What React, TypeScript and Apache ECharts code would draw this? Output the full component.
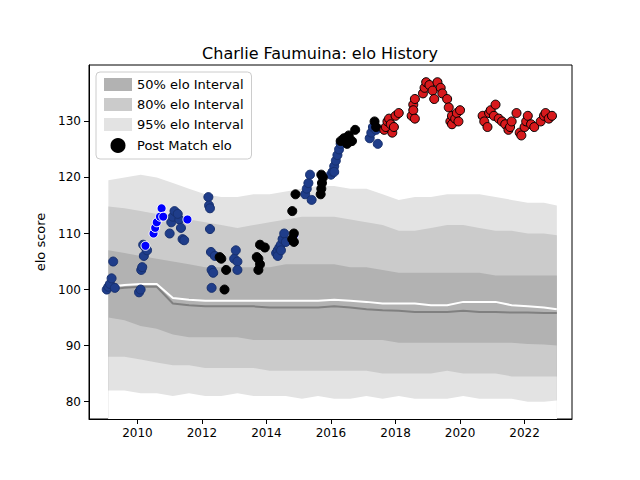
import React, { useEffect, useRef } from "react";
import * as echarts from "echarts";

const bandYears = [2009.1, 2009.6, 2010.1, 2010.6, 2011.1, 2011.6, 2012.1, 2012.6, 2013.1, 2013.6, 2014.1, 2014.6, 2015.1, 2015.6, 2016.1, 2016.6, 2017.1, 2017.6, 2018.1, 2018.6, 2019.1, 2019.6, 2020.1, 2020.6, 2021.1, 2021.6, 2022.1, 2022.6, 2023.0];
const upper95 = [119.5, 120, 120.5, 120, 119, 118, 117, 116.5, 116.5, 117, 117, 117.5, 118, 118.5, 118.5, 118, 118, 117, 116, 116.5, 116.5, 117, 117, 117, 116.5, 116, 115.5, 115.5, 115];
const lower95 = [82, 82, 81.5, 81.5, 81, 81.5, 81, 81, 81.5, 81, 81, 81, 80.5, 81, 80.5, 80.5, 81, 80.5, 81, 80.5, 80.5, 80.5, 81, 80.5, 80.5, 80.5, 80, 80, 80.2];
const upper80 = [114.8, 114.5, 114, 113.5, 113, 112.5, 112, 111.5, 111, 111.5, 112, 112.5, 113, 113, 113, 112.5, 112, 111.5, 110.5, 110.5, 111, 111.5, 111.5, 111, 110.5, 110.5, 110, 110, 109.7];
const lower80 = [88, 88, 87.5, 87, 86.5, 86.5, 86, 86, 86, 86, 85.5, 85.5, 85.5, 85.5, 85.5, 85.5, 85.5, 85, 85, 85, 85, 85.5, 85, 85, 85, 84.5, 84.5, 84.5, 84.5];
const upper50 = [107, 106.5, 106, 105.5, 105, 104.5, 104, 104, 104, 104, 104, 104.5, 104.5, 104.5, 104.5, 104, 104, 103.5, 103, 103, 103, 103, 103, 103, 102.5, 102.5, 102.5, 102.5, 102.5];
const lower50 = [95, 94.5, 93.5, 93, 92, 91.5, 91.5, 91.5, 91.5, 91, 91, 91, 91, 91, 91, 91, 91, 91, 90.5, 90.5, 90.5, 90.5, 90.5, 90.5, 90.5, 90.5, 90.3, 90.2, 90];
const medianWhite = [100.5, 100.8, 101, 101, 98.5, 98.2, 98, 98, 98, 98, 98, 98, 98, 98, 98.2, 98, 97.8, 97.5, 97.5, 97.5, 97.2, 97.2, 97.8, 97.8, 97.8, 97.2, 97, 96.8, 96.5];
const medianGrey = [100, 100.3, 100.5, 100.5, 97.5, 97.2, 97, 97, 97, 97, 96.8, 96.8, 96.8, 96.8, 97, 96.8, 96.5, 96.3, 96.2, 96, 96, 96, 96.2, 96, 96, 95.9, 95.9, 95.8, 95.8];

const navyPts = [
  [2009.05, 100], [2009.1, 100.5], [2009.15, 101], [2009.2, 102], [2009.25, 105], [2009.3, 100.3],
  [2010.05, 99.5], [2010.1, 100], [2010.12, 103.5], [2010.15, 104], [2010.2, 106], [2010.25, 107.5], [2010.18, 108], [2010.3, 107],
  [2011.0, 110], [2011.05, 112], [2011.1, 113], [2011.15, 114], [2011.3, 112.5], [2011.35, 111], [2011.25, 113.5], [2011.4, 109], [2011.45, 108.8],
  [2012.2, 116.5], [2012.22, 115], [2012.25, 114.5], [2012.25, 110.8], [2012.28, 106.7], [2012.3, 103.5], [2012.35, 103], [2012.3, 100.3], [2012.4, 106],
  [2013.0, 105.5], [2013.1, 105], [2013.05, 107], [2013.1, 103.5],
  [2014.3, 106.5], [2014.35, 107], [2014.4, 107.5], [2014.45, 108], [2014.5, 109], [2014.55, 110], [2014.6, 108.5], [2014.35, 106], [2014.45, 107],
  [2015.2, 117], [2015.25, 118], [2015.3, 119], [2015.35, 120.5], [2015.4, 116],
  [2016.0, 120.5], [2016.05, 121], [2016.1, 122], [2016.15, 123], [2016.2, 124], [2016.25, 125], [2016.3, 126], [2016.1, 121],
  [2017.2, 127], [2017.25, 128], [2017.3, 129], [2017.4, 128.5], [2017.45, 126],
];
const blackPts = [
  [2012.55, 105.8], [2012.6, 105.5], [2012.75, 103.5], [2012.7, 100],
  [2013.7, 105.8], [2013.75, 105.5], [2013.8, 104.5], [2013.75, 103.5], [2013.8, 108], [2013.95, 107.5],
  [2014.85, 110], [2014.8, 109], [2014.85, 108.5], [2014.8, 114], [2014.9, 117],
  [2015.7, 120.5], [2015.72, 119], [2015.7, 118], [2015.68, 117], [2015.75, 120],
  [2016.3, 126.5], [2016.4, 127], [2016.5, 126], [2016.55, 127.5], [2016.75, 128.5], [2016.65, 126.5],
  [2017.35, 130], [2017.4, 129],
];
const brightPts = [
  [2010.25, 107.8], [2010.5, 110], [2010.55, 111], [2010.6, 112], [2010.7, 113], [2010.75, 114.5], [2010.8, 113], [2011.55, 112.5], [2014.85, 109.7],
];
const redPts = [
  [2017.65, 128.5], [2017.7, 129], [2017.75, 130], [2017.8, 130.5], [2017.85, 129.5], [2017.9, 128], [2017.95, 129], [2018.0, 131], [2018.1, 131.5],
  [2018.5, 131], [2018.55, 133], [2018.6, 134], [2018.55, 132], [2018.6, 130.5],
  [2018.85, 135], [2018.9, 136], [2018.95, 137], [2019.05, 136.5], [2019.15, 135.5], [2019.2, 134], [2019.3, 137], [2019.4, 136], [2019.45, 135],
  [2019.6, 134], [2019.65, 132.5], [2019.7, 130], [2019.75, 131], [2019.75, 129.5], [2019.85, 130.5], [2019.9, 131.5], [2020.0, 132], [2019.95, 130],
  [2020.7, 131], [2020.75, 130], [2020.85, 129], [2020.9, 131.5], [2020.95, 132], [2021.1, 133], [2021.05, 131], [2021.2, 130.5],
  [2021.3, 130], [2021.4, 129.5], [2021.5, 128.5], [2021.55, 129], [2021.6, 130], [2021.75, 131.5],
  [2021.85, 128], [2021.9, 127.5], [2022.0, 129], [2022.05, 130], [2022.1, 131], [2022.2, 129.5], [2022.3, 129],
  [2022.5, 130], [2022.6, 131], [2022.65, 131.5], [2022.75, 130.5], [2022.85, 131],
];
const xTicks = [2010, 2012, 2014, 2016, 2018, 2020, 2022];
const yTicks = [80, 90, 100, 110, 120, 130];

const C95 = "#e3e3e3";
const C80 = "#cbcbcb";
const C50 = "#b2b2b2";

// each edge filled down to the axis bottom, painted in order so the bands show through
const fill = (name: string, vals: number[], color: string) => ({
  name, type: "line", symbol: "none", color, silent: true,
  data: bandYears.map((x, i) => [x, vals[i]]),
  lineStyle: { width: 0, opacity: 0 }, areaStyle: { color, opacity: 1, origin: "start" },
});

const scatter = (name: string, pts: number[][], color: string, border: string) => ({
  name, type: "scatter", data: pts, symbolSize: 9, color,
  itemStyle: { color, borderColor: border, borderWidth: 1, opacity: 1 }, z: 5,
});

export default function App() {
  const ref = useRef<HTMLDivElement>(null);
  useEffect(() => {
    if (!ref.current) return;
    const chart = echarts.init(ref.current, null, { renderer: "svg" });
    const font = "DejaVu Sans";
    chart.setOption({
      animation: false,
      textStyle: { fontFamily: font },
      title: { text: "Charlie Faumuina: elo History", left: "center", top: 32, textStyle: { fontFamily: font, fontSize: 16, fontWeight: "normal", color: "#000" } },
      grid: { left: 81, right: 60, top: 57, bottom: 53, show: true, borderColor: "#000", borderWidth: 1 },
      legend: {
        orient: "vertical", left: 88, top: 64,
        data: [
          { name: "50% elo Interval", icon: "rect" },
          { name: "80% elo Interval", icon: "rect" },
          { name: "95% elo Interval", icon: "rect" },
          { name: "Post Match elo", icon: "circle" },
        ],
        backgroundColor: "#fff", borderColor: "#ccc", borderWidth: 1, borderRadius: 4, padding: [6, 8],
        itemWidth: 28, itemHeight: 13, itemGap: 7, textStyle: { fontSize: 13, color: "#000", fontFamily: font },
      },
      xAxis: {
        type: "value", min: 2008.5, max: 2023.47, splitLine: { show: false },
        axisLine: { lineStyle: { color: "#000" } }, axisTick: { customValues: xTicks, lineStyle: { color: "#000" } },
        axisLabel: { customValues: xTicks, color: "#000", fontSize: 12, formatter: (v: number) => String(v) },
      },
      yAxis: {
        type: "value", min: 76.9, max: 140.07, name: "elo score", nameLocation: "middle", nameGap: 36,
        nameTextStyle: { fontSize: 13, color: "#000" }, splitLine: { show: false },
        axisLine: { show: true, lineStyle: { color: "#000" } }, axisTick: { show: true, customValues: yTicks, lineStyle: { color: "#000" } },
        axisLabel: { customValues: yTicks, color: "#000", fontSize: 12 },
      },
      series: [
        fill("95% elo Interval", upper95, C95),
        fill("80% elo Interval", upper80, C80),
        fill("50% elo Interval", upper50, C50),
        fill("l50", lower50, C80),
        fill("l80", lower80, C95),
        fill("l95", lower95, "#ffffff"),
        { type: "line", symbol: "none", data: bandYears.map((x, i) => [x, medianGrey[i]]), lineStyle: { color: "#808080", width: 2 } },
        { type: "line", symbol: "none", data: bandYears.map((x, i) => [x, medianWhite[i]]), lineStyle: { color: "#fff", width: 2 } },
        scatter("navy", navyPts, "#1f3d8a", "#17306e"),
        scatter("bright", brightPts, "#0000ff", "#fff"),
        scatter("Post Match elo", blackPts, "#000", "#000"),
        scatter("red", redPts, "#d7191c", "#000"),
      ],
    });
    return () => chart.dispose();
  }, []);
  return <div ref={ref} style={{ width: 624, height: 464 }} />;
}
